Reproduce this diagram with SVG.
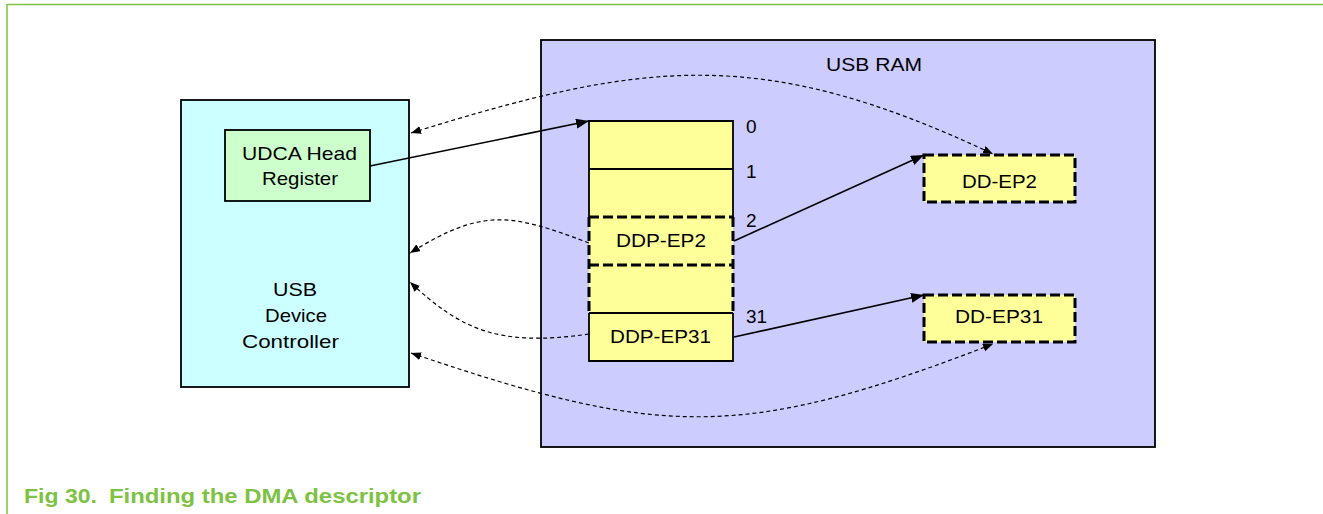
<svg xmlns="http://www.w3.org/2000/svg" width="1323" height="514" viewBox="0 0 1323 514">
<style>
text{font-family:"Liberation Sans",Arial,sans-serif;font-size:19px;fill:#000}
.box{stroke:#000;stroke-width:1.8}
.dbox{stroke:#000;stroke-width:3;stroke-dasharray:10,4;fill:#ffff99}
.sl{stroke:#000;stroke-width:1.8;fill:none}
.dl{stroke:#000;stroke-width:3;stroke-dasharray:10,4;fill:none}
.conn{stroke:#000;stroke-width:1.6;fill:none}
.dconn{stroke:#000;stroke-width:1.2;fill:none;stroke-dasharray:4,3}
.cap{fill:#7dc242;font-weight:bold;font-size:20px}
</style>
<defs>
<marker id="ah" markerUnits="userSpaceOnUse" markerWidth="14" markerHeight="12" refX="13" refY="5" orient="auto"><path d="M0,0 L13,5 L0,10 z" fill="#000"/></marker>
<marker id="dh" markerUnits="userSpaceOnUse" markerWidth="11" markerHeight="9" refX="10" refY="4" orient="auto-start-reverse"><path d="M0,0 L10,4 L0,8 z" fill="#000"/></marker>
</defs>
<g id="frame">
<line x1="7" y1="4.5" x2="1323" y2="4.5" stroke="#7dc242" stroke-width="1.5"/>
<line x1="7" y1="4" x2="7" y2="514" stroke="#7dc242" stroke-width="1.5"/>
<text class="cap" x="24" y="503" textLength="73" lengthAdjust="spacingAndGlyphs">Fig 30.</text>
<text class="cap" x="109" y="503" textLength="312" lengthAdjust="spacingAndGlyphs">Finding the DMA descriptor</text>
</g>
<g id="usb-ram">
<rect class="box" x="541" y="40" width="614" height="407" fill="#ccccff"/>
<text x="826" y="71" textLength="96" lengthAdjust="spacingAndGlyphs">USB RAM</text>
</g>
<g id="usb-device-controller">
<rect class="box" x="181" y="100" width="228" height="287" fill="#ccffff"/>
<text x="273" y="296" textLength="44" lengthAdjust="spacingAndGlyphs">USB</text>
<text x="265" y="322" textLength="62" lengthAdjust="spacingAndGlyphs">Device</text>
<text x="242" y="348" textLength="97" lengthAdjust="spacingAndGlyphs">Controller</text>
</g>
<g id="udca-head-register">
<rect class="box" x="225" y="130" width="145" height="71" fill="#ccffcc"/>
<text x="242" y="160" textLength="115" lengthAdjust="spacingAndGlyphs">UDCA Head</text>
<text x="262" y="185" textLength="76" lengthAdjust="spacingAndGlyphs">Register</text>
</g>
<g id="udca-table">
<rect x="589" y="121" width="144" height="240" fill="#ffff99"/>
<path class="sl" d="M589,217 V121 H733 V217 M589,169 H733"/>
<path class="dl" d="M589,217 H733 M589,265 H733 M589,217 V313 M733,217 V313"/>
<path class="sl" d="M589,313 H733 M589,313 V361 H733 V313"/>
<text x="746" y="133">0</text>
<text x="746" y="178">1</text>
<text x="746" y="227">2</text>
<text x="746" y="323" textLength="21" lengthAdjust="spacingAndGlyphs">31</text>
</g>
<g id="ddp-ep2">
<text x="616" y="247" textLength="90" lengthAdjust="spacingAndGlyphs">DDP-EP2</text>
</g>
<g id="ddp-ep31">
<text x="610" y="343" textLength="101" lengthAdjust="spacingAndGlyphs">DDP-EP31</text>
</g>
<g id="dd-ep2">
<rect class="dbox" x="924" y="155" width="151" height="47"/>
<text x="962" y="188" textLength="75" lengthAdjust="spacingAndGlyphs">DD-EP2</text>
</g>
<g id="dd-ep31">
<rect class="dbox" x="924" y="295" width="151" height="47"/>
<text x="955" y="323" textLength="88" lengthAdjust="spacingAndGlyphs">DD-EP31</text>
</g>
<g id="connectors">
<line class="conn" x1="370" y1="166" x2="589" y2="121" marker-end="url(#ah)"/>
<line class="conn" x1="734" y1="241" x2="924" y2="155" marker-end="url(#ah)"/>
<line class="conn" x1="734" y1="337" x2="924" y2="295" marker-end="url(#ah)"/>
<path class="dconn" d="M411,133 C643,61 760,44 993,154" marker-start="url(#dh)" marker-end="url(#dh)"/>
<path class="dconn" d="M411,353 C661,438 742,441 993,344" marker-start="url(#dh)" marker-end="url(#dh)"/>
<path class="dconn" d="M589,243 C510,213 482,208 410,253" marker-end="url(#dh)"/>
<path class="dconn" d="M589,334 C499,347 461,330 410,282" marker-end="url(#dh)"/>
</g>
</svg>
